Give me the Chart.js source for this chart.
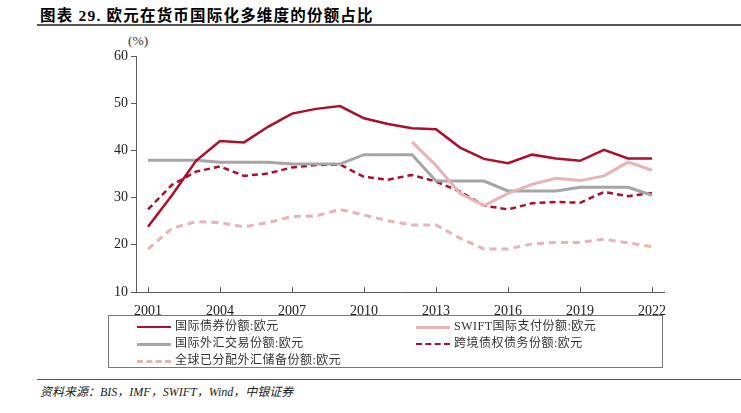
<!DOCTYPE html>
<html>
<head>
<meta charset="utf-8">
<script src="https://cdn.jsdelivr.net/npm/chart.js@4"></script>
<style>
  body { margin: 0; width: 741px; height: 413px; background: #fff; position: relative; overflow: hidden; }
  .title { position: absolute; left: 40px; top: 3px; font: bold 15.5px "Liberation Serif", "Noto Sans CJK SC"; color: #000; letter-spacing: 1.2px; }
  .rule { position: absolute; left: 37px; right: 0; height: 0; border-top: 2px solid #555; }
  .unit { position: absolute; left: 128px; top: 33px; font: 13.5px "Liberation Serif", serif; color: #333; }
  #chartWrap { position: absolute; left: 90px; top: 30px; width: 590px; height: 290px; }
  #legend { position: absolute; left: 108px; top: 315px; width: 555px; height: 53px; border: 1px solid #777; box-sizing: border-box; }
  .item { position: absolute; font: 12px "Liberation Serif", "Noto Sans CJK SC"; color: #333; white-space: nowrap; line-height: 14px; letter-spacing: 0.5px; }
  .sample { display: inline-block; width: 34px; height: 0; vertical-align: middle; margin-right: 4px; }
  .source { position: absolute; left: 40px; top: 382px; font: italic 12px "Liberation Serif", "Noto Sans CJK SC"; color: #222; }
</style>
</head>
<body>
<div class="title">图表 29. 欧元在货币国际化多维度的份额占比</div>
<div class="rule" style="top:24px"></div>
<div class="unit">(%)</div>
<div id="chartWrap"><canvas id="chart"></canvas></div>
<div id="legend"></div>
<div class="rule" style="top:379px; border-top-width:1.5px"></div>
<div class="source">资料来源：BIS，IMF，SWIFT，Wind，中银证券</div>
<script>
// Data (%)
const years = [2001, 2002, 2003, 2004, 2005, 2006, 2007, 2008, 2009, 2010, 2011,
               2012, 2013, 2014, 2015, 2016, 2017, 2018, 2019, 2020, 2021, 2022];
const xTickYears = [2001, 2004, 2007, 2010, 2013, 2016, 2019, 2022];
const yTicks = [10, 20, 30, 40, 50, 60];

const bondShare = [23.8, 30.5, 37.8, 42.0, 41.7, 45.0, 47.8, 48.8, 49.4, 46.8, 45.6,
                   44.7, 44.5, 40.6, 38.2, 37.3, 39.1, 38.3, 37.8, 40.1, 38.3, 38.3];
const swiftShare = [null, null, null, null, null, null, null, null, null, null, null,
                    41.8, 36.8, 30.9, 28.3, 30.9, 32.8, 34.1, 33.6, 34.6, 37.5, 35.8];
const fxTradeShare = [37.9, 37.9, 37.9, 37.5, 37.5, 37.5, 37.1, 37.1, 37.1, 39.1, 39.1,
                      39.1, 33.5, 33.5, 33.5, 31.4, 31.4, 31.4, 32.2, 32.2, 32.2, 30.5];
const crossBorderShare = [27.5, 32.7, 35.5, 36.6, 34.6, 35.1, 36.4, 36.9, 37.0, 34.4, 33.8,
                          34.8, 33.4, 31.3, 28.3, 27.5, 28.8, 29.1, 28.9, 31.2, 30.3, 31.0];
const reserveShare = [19.1, 23.5, 24.9, 24.7, 23.8, 24.7, 26.0, 26.1, 27.5, 26.3, 25.1,
                      24.2, 24.2, 21.4, 19.1, 19.1, 20.2, 20.5, 20.5, 21.2, 20.4, 19.6];

const DARK_RED = '#AD0F2B';
const PINK = '#E8B3B3';
const GRAY = '#A5A5A5';

function pts(values) {
    return years.map((y, i) => ({ x: y, y: values[i] }));
}

const series = [
    { label: '国际债券份额:欧元', data: bondShare, color: DARK_RED, width: 2.5, dash: [], col: 0, row: 0 },
    { label: 'SWIFT国际支付份额:欧元', data: swiftShare, color: PINK, width: 3, dash: [], col: 1, row: 0 },
    { label: '国际外汇交易份额:欧元', data: fxTradeShare, color: GRAY, width: 3, dash: [], col: 0, row: 1 },
    { label: '跨境债权债务份额:欧元', data: crossBorderShare, color: DARK_RED, width: 2.5, dash: [6, 4], col: 1, row: 1 },
    { label: '全球已分配外汇储备份额:欧元', data: reserveShare, color: PINK, width: 3, dash: [7, 5], col: 0, row: 2 }
];

// Legend (HTML, boxed, two columns)
const legendEl = document.getElementById('legend');
series.forEach(s => {
    const div = document.createElement('div');
    div.className = 'item';
    div.style.left = (s.col === 0 ? 28 : 307) + 'px';
    div.style.top = (3 + s.row * 17) + 'px';
    const style = s.dash.length ? `border-top: ${s.width}px dashed ${s.color}` : `border-top: ${s.width}px solid ${s.color}`;
    div.innerHTML = `<span class="sample" style="${style}"></span>${s.label}`;
    legendEl.appendChild(div);
});

// Inner tick marks on x axis
const innerTicks = {
    id: 'innerTicks',
    afterDraw(chart) {
        const ctx = chart.ctx;
        const xs = chart.scales.x;
        const bottom = chart.chartArea.bottom;
        ctx.save();
        ctx.strokeStyle = '#595959';
        ctx.lineWidth = 1;
        xTickYears.forEach(y => {
            const px = Math.round(xs.getPixelForValue(y)) + 0.5;
            ctx.beginPath();
            ctx.moveTo(px, bottom);
            ctx.lineTo(px, bottom - 5);
            ctx.stroke();
        });
        ctx.restore();
    }
};

const tickFont = { family: '"Liberation Serif", serif', size: 14 };

new Chart(document.getElementById('chart'), {
    type: 'line',
    data: {
        datasets: series.map(s => ({
            label: s.label,
            data: pts(s.data),
            borderColor: s.color,
            borderWidth: s.width,
            borderDash: s.dash,
            pointRadius: 0,
            tension: 0,
            fill: false,
            spanGaps: false
        }))
    },
    options: {
        responsive: true,
        maintainAspectRatio: false,
        animation: false,
        layout: { padding: { top: 26, right: 16, left: 0, bottom: 0 } },
        plugins: { legend: { display: false }, tooltip: { enabled: false } },
        scales: {
            x: {
                type: 'linear',
                min: 2000.5,
                max: 2022.5,
                afterBuildTicks(scale) { scale.ticks = xTickYears.map(v => ({ value: v })); },
                ticks: { color: '#222', font: tickFont, padding: 3, maxRotation: 0, autoSkip: false,
                         callback: v => String(v) },
                grid: { display: false },
                border: { display: true, color: '#595959', width: 1 },
                afterFit(scale) { scale.height = 28; }
            },
            y: {
                min: 10,
                max: 60,
                afterBuildTicks(scale) { scale.ticks = yTicks.map(v => ({ value: v })); },
                ticks: { color: '#222', font: tickFont, padding: 3 },
                grid: { drawOnChartArea: false, tickLength: 5, color: '#595959' },
                border: { display: true, color: '#595959', width: 1 },
                afterFit(scale) { scale.width = 46; }
            }
        }
    },
    plugins: [innerTicks]
});
</script>
</body>
</html>
